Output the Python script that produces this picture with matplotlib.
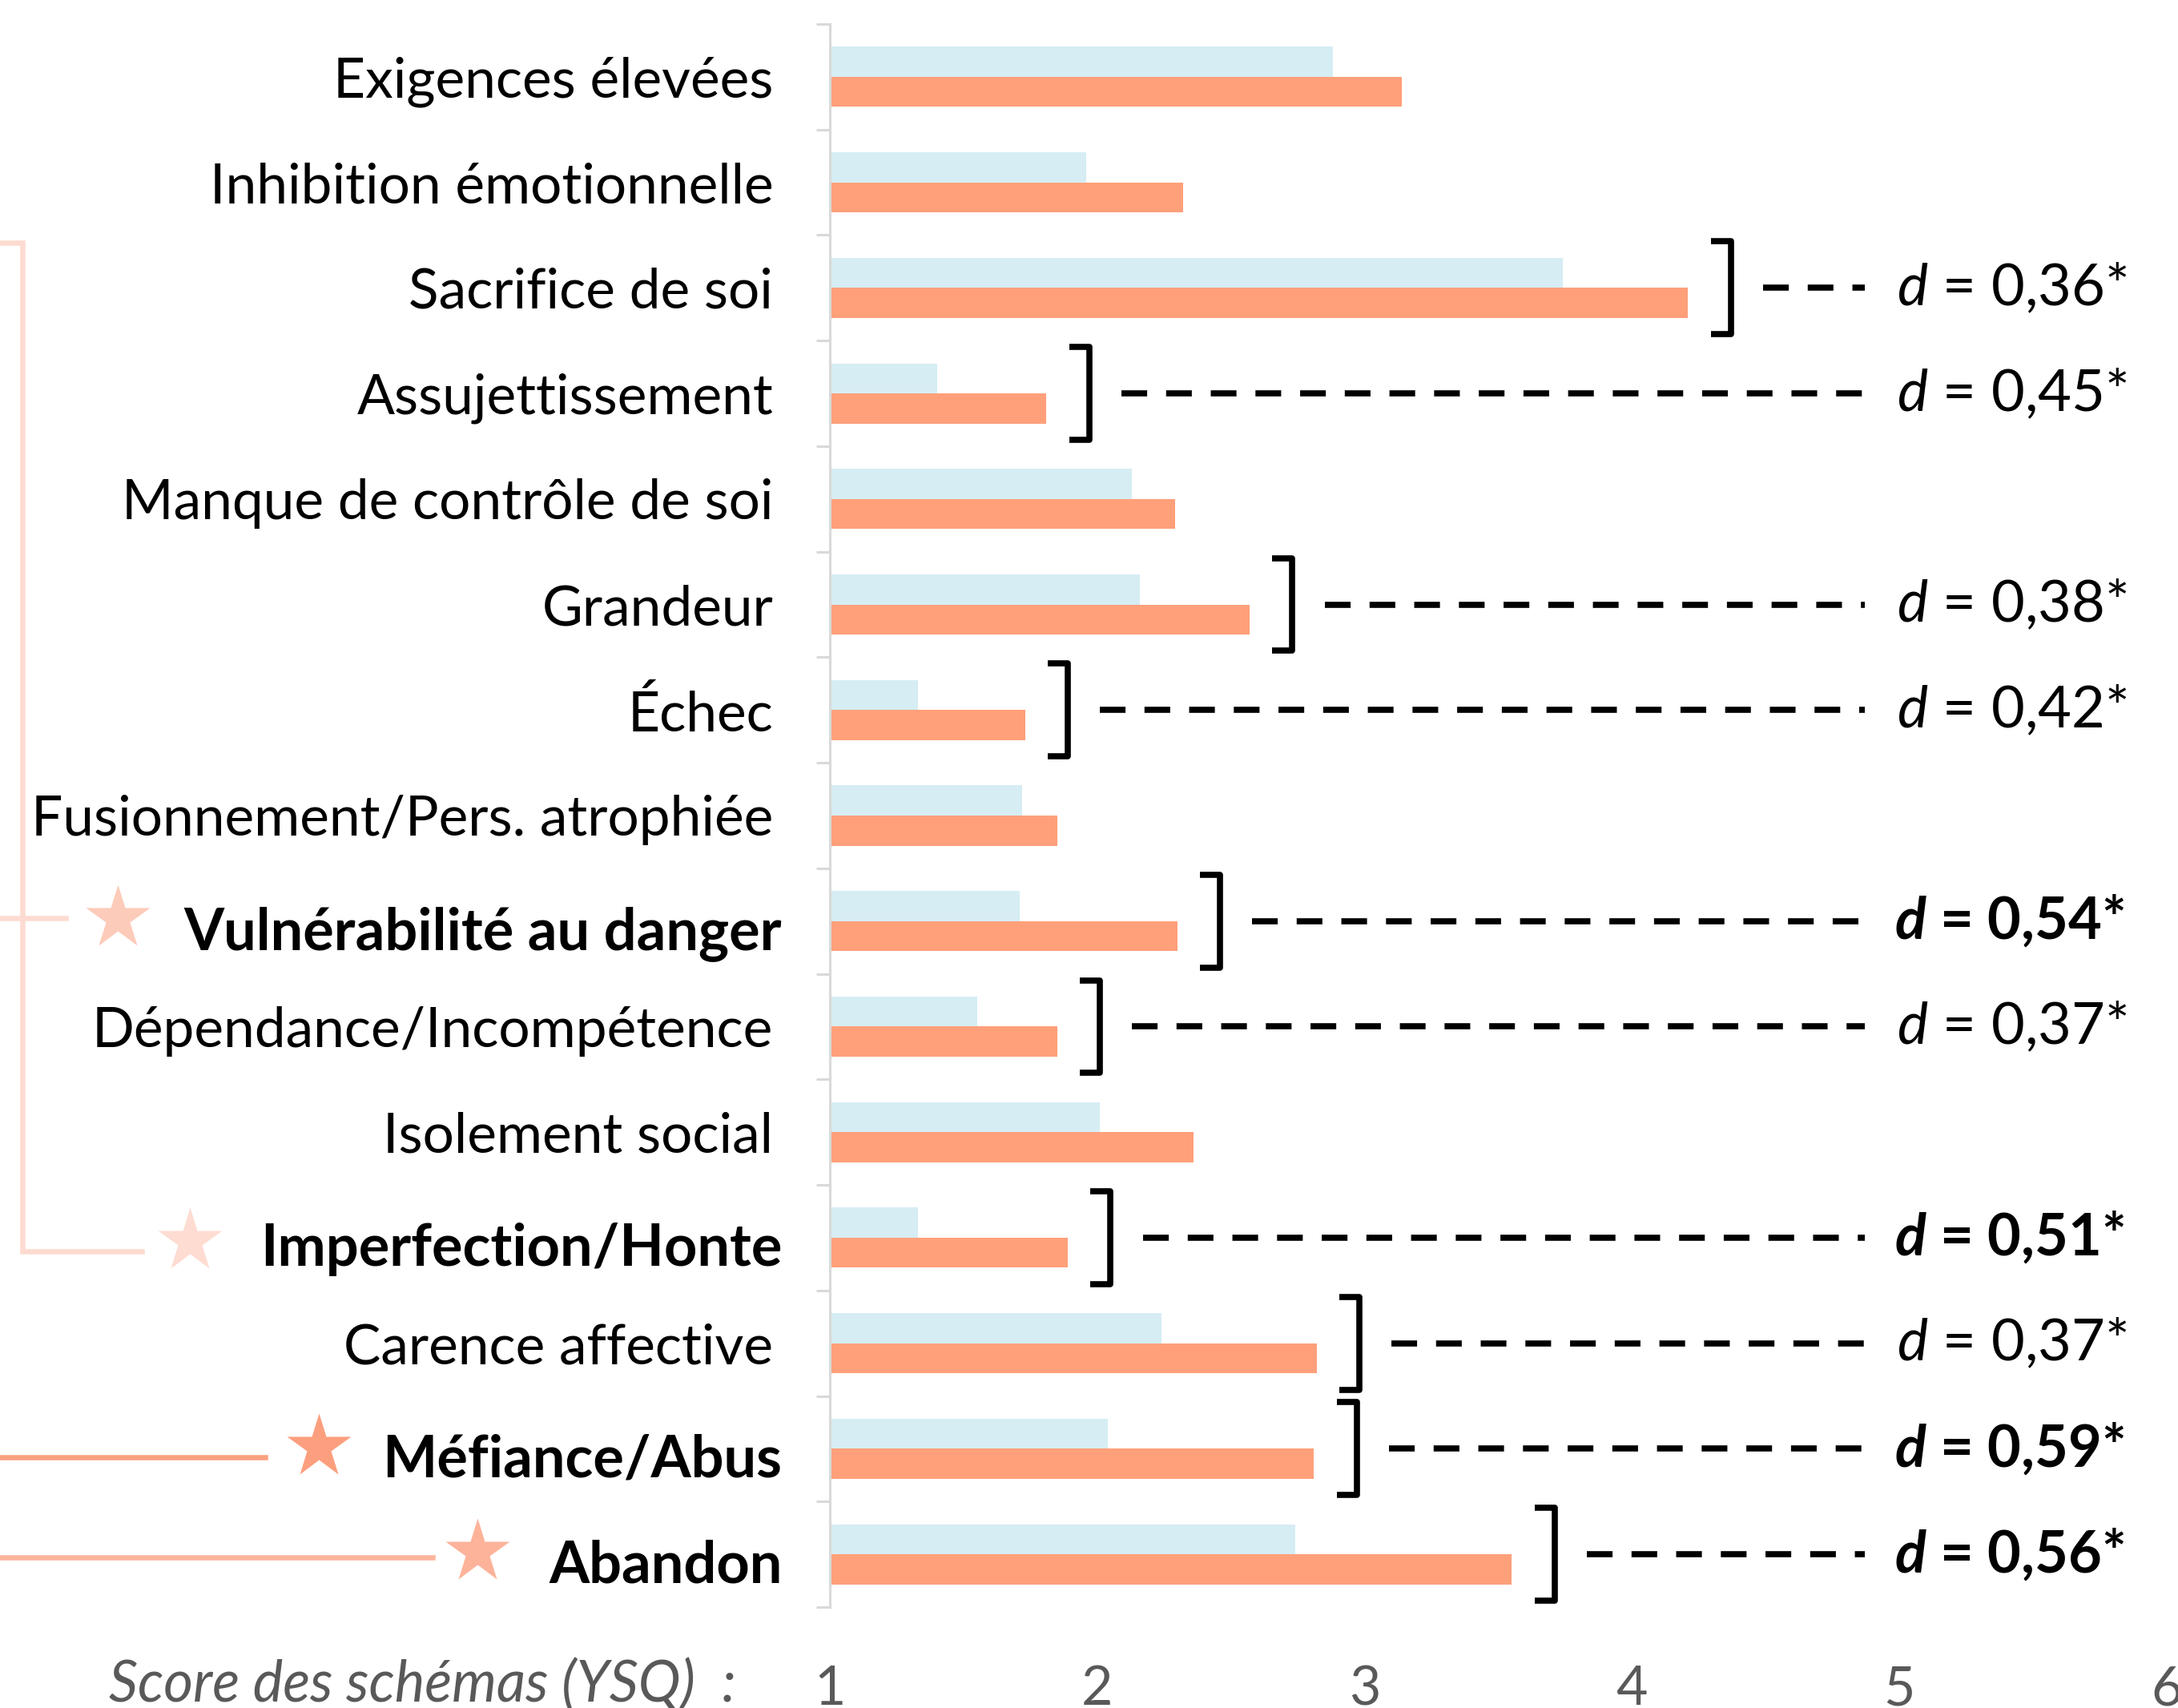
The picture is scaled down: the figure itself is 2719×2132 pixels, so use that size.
import numpy as np
import matplotlib.pyplot as plt
from matplotlib import transforms

plt.rcParams['font.family'] = ['Lato', 'DejaVu Sans']
plt.rcParams['mathtext.fontset'] = 'custom'
plt.rcParams['mathtext.rm'] = 'Lato'
plt.rcParams['mathtext.it'] = 'Lato:italic'
plt.rcParams['mathtext.bf'] = 'Lato:italic:bold'

# ---------------- données ----------------
categories = ['Exigences élevées', 'Inhibition émotionnelle', 'Sacrifice de soi',
              'Assujettissement', 'Manque de contrôle de soi', 'Grandeur', 'Échec',
              'Fusionnement/Pers. atrophiée', 'Vulnérabilité au danger',
              'Dépendance/Incompétence', 'Isolement social', 'Imperfection/Honte',
              'Carence affective', 'Méfiance/Abus', 'Abandon']
score_bleu = [2.88, 1.96, 3.74, 1.40, 2.13, 2.16, 1.33, 1.72, 1.71, 1.55, 2.01, 1.33, 2.24, 2.04, 2.74]
score_orange = [3.14, 2.32, 4.21, 1.81, 2.29, 2.57, 1.73, 1.85, 2.30, 1.85, 2.36, 1.89, 2.82, 2.81, 3.55]

effet_cats = ['Sacrifice de soi', 'Assujettissement', 'Grandeur', 'Échec',
              'Vulnérabilité au danger', 'Dépendance/Incompétence', 'Imperfection/Honte',
              'Carence affective', 'Méfiance/Abus', 'Abandon']
effet_d = ['0,36', '0,45', '0,38', '0,42', '0,54', '0,37', '0,51', '0,37', '0,59', '0,56']
effet_gras = [False, False, False, False, True, False, True, False, True, True]

schemas_etoile = ['Vulnérabilité au danger', 'Imperfection/Honte', 'Méfiance/Abus', 'Abandon']
x_ticks = [1, 2, 3, 4, 5, 6]
x_label = 'Score des schémas (YSQ)  :'

# ---------------- figure ----------------
W, H = 2719, 2132
fig = plt.figure(figsize=(W / 100, H / 100), dpi=100)
ax = fig.add_axes([1036 / W, 1 - 2006 / H, (2705 - 1036) / W, (2006 - 30) / H])

c_bleu = '#D6EDF4'
c_orange = '#FFA07A'
bar_h = 0.285
y = np.arange(len(categories))

ax.barh(y - bar_h / 2, score_bleu, height=bar_h, color=c_bleu)
ax.barh(y + bar_h / 2, score_orange, height=bar_h, color=c_orange)

ax.set_xlim(1, 6)
ax.set_ylim(len(categories) - 0.5, -0.5)

for s in ['top', 'right', 'bottom']:
    ax.spines[s].set_visible(False)
ax.spines['left'].set_color('#D9D9D9')
ax.spines['left'].set_linewidth(2.2)

ax.set_xticks(x_ticks)
ax.set_xticklabels([str(t) for t in x_ticks])
ax.tick_params(axis='x', length=0, pad=52, labelsize=49, labelcolor='#595959')

ax.set_yticks(y)
ax.set_yticklabels(categories)
ax.set_yticks(np.arange(-0.5, len(categories)), minor=True)
ax.tick_params(axis='y', which='major', length=0, pad=51, labelsize=50)
ax.tick_params(axis='y', which='minor', length=12, width=2.2, color='#D9D9D9')
decal = transforms.ScaledTranslation(8 / 72, -6 / 72, fig.dpi_scale_trans)
for lab in ax.get_yticklabels():
    if lab.get_text() in schemas_etoile:
        lab.set_fontweight('bold')
        lab.set_fontsize(52)
        lab.set_transform(lab.get_transform() + decal)

fig.text(919 / W, 1 - 2103 / H, x_label, ha='right', va='center',
         style='italic', color='#595959', fontsize=51)

# ---------------- crochets + d de Cohen ----------------
for name, d, gras in zip(effet_cats, effet_d, effet_gras):
    i = categories.index(name)
    xb = score_orange[i] + 0.16
    hook = 0.075
    ax.plot([xb - hook, xb, xb, xb - hook], [i - 0.44, i - 0.44, i + 0.44, i + 0.44],
            color='black', lw=5.5, solid_joinstyle='round', solid_capstyle='butt',
            clip_on=False)
    ax.plot([xb + 0.12, 4.87], [i, i], color='black', lw=5.5,
            dashes=(4.2, 3.1), dash_capstyle='butt', clip_on=False)
    if gras:
        txt = r'$\mathbf{d}$ = ' + d + '*'
        ax.text(4.98, i, txt, ha='left', va='center', fontsize=52,
                fontweight='bold', clip_on=False)
    else:
        txt = r'$\mathit{d}$ = ' + d + '*'
        ax.text(4.99, i, txt, ha='left', va='center', fontsize=52, clip_on=False)

# ---------------- liens et étoiles à gauche ----------------
tr = transforms.blended_transform_factory(fig.transFigure, ax.transData)
i_sac = categories.index('Sacrifice de soi')
i_vul = categories.index('Vulnérabilité au danger')
i_imp = categories.index('Imperfection/Honte')
i_mef = categories.index('Méfiance/Abus')
i_aba = categories.index('Abandon')

c_clair = '#FDDBD0'
ax.plot(np.array([0, 28, 28, 177]) / W, [i_sac - 0.425, i_sac - 0.425, i_imp + 0.13, i_imp + 0.13],
        transform=tr, color=c_clair, lw=4.7, clip_on=False, solid_joinstyle='miter')
ax.plot(np.array([0, 82]) / W, [i_vul - 0.03, i_vul - 0.03], transform=tr,
        color=c_clair, lw=4.7, clip_on=False)
ax.plot(np.array([0, 331]) / W, [i_mef + 0.08, i_mef + 0.08], transform=tr,
        color='#FCA07F', lw=4.7, clip_on=False)
ax.plot(np.array([0, 540]) / W, [i_aba + 0.03, i_aba + 0.03], transform=tr,
        color='#FDB59B', lw=4.7, clip_on=False)

etoiles = [(147, i_vul - 0.03, '#FDCBB9'), (237, i_imp + 0.03, '#FEDCD1'),
           (398, i_mef - 0.02, '#FC9F7E'), (596, i_aba - 0.02, '#FDB39A')]
for xp, yp, col in etoiles:
    ax.plot([xp / W], [yp], marker='*', markersize=60, color=col, mec='none',
            transform=tr, clip_on=False)

fig.savefig('out.png', dpi=100)
